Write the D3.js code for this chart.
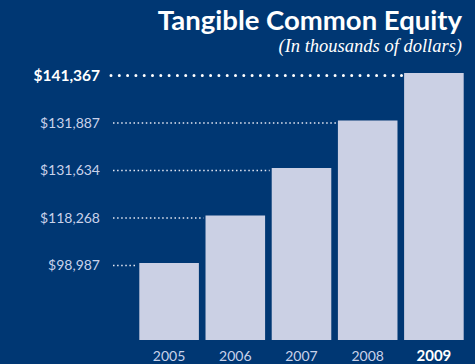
<!DOCTYPE html>
<html>
<head>
<meta charset="utf-8">
<script src="https://cdn.jsdelivr.net/npm/d3@7"></script>
<style>
  html, body { margin: 0; padding: 0; background: #003773; }
  svg { display: block; }
</style>
</head>
<body>
<div id="chart"></div>
<script>
// Tangible common equity by year, in thousands of dollars
const years = ["2005", "2006", "2007", "2008", "2009"];
const equity = [98987, 118268, 131634, 131887, 141367];
const valueLabels = ["$98,987", "$118,268", "$131,634", "$131,887", "$141,367"];
const highlightYear = "2009";

const W = 475, H = 364;
const bg = "#003773", barFill = "#cbd0e4", light = "#c9d2ea";

const svg = d3.select("#chart").append("svg")
  .attr("width", W).attr("height", H)
  .style("background", bg);

const x = d3.scaleBand().domain(years).range([136, 467]).paddingInner(0.1).paddingOuter(0.05);
// Each value sits on its own evenly spaced level (ranked scale)
const y = d3.scalePoint().domain(equity.slice().sort(d3.ascending)).range([263, 73]);
const baseY = 340;

const rows = years.map((yr, i) => ({ year: yr, value: equity[i], label: valueLabels[i], hi: yr === highlightYear }));

// Leader lines from labels to each bar
svg.append("g").selectAll("line").data(rows).join("line")
  .attr("x1", d => d.hi ? 111 : 113)
  .attr("x2", d => x(d.year) - 2)
  .attr("y1", d => y(d.value) + 2.5)
  .attr("y2", d => y(d.value) + 2.5)
  .attr("stroke", d => d.hi ? "#ffffff" : "#e6e9f4")
  .attr("stroke-width", d => d.hi ? 3 : 1.5)
  .attr("stroke-linecap", d => d.hi ? "round" : "butt")
  .attr("stroke-dasharray", d => d.hi ? "0,8.3" : "1.5,2.6");

// Bars
svg.append("g").selectAll("rect").data(rows).join("rect")
  .attr("x", d => x(d.year))
  .attr("width", x.bandwidth())
  .attr("y", d => y(d.value))
  .attr("height", d => baseY - y(d.value))
  .attr("fill", barFill);

// Value labels
svg.append("g").selectAll("text").data(rows).join("text")
  .attr("x", 100)
  .attr("y", d => y(d.value) + 2.5)
  .attr("dy", "0.35em")
  .attr("text-anchor", "end")
  .attr("font-family", "Lato, 'Open Sans', sans-serif")
  .attr("font-size", d => d.hi ? 15.5 : 14)
  .attr("font-weight", d => d.hi ? 700 : 400)
  .attr("fill", d => d.hi ? "#ffffff" : light)
  .text(d => d.label);

// Year axis labels
svg.append("g").selectAll("text").data(rows).join("text")
  .attr("x", d => x(d.year) + x.bandwidth() / 2)
  .attr("y", 361)
  .attr("text-anchor", "middle")
  .attr("font-family", "Lato, 'Open Sans', sans-serif")
  .attr("font-size", d => d.hi ? 15 : 14)
  .attr("font-weight", d => d.hi ? 700 : 400)
  .attr("fill", d => d.hi ? "#ffffff" : light)
  .text(d => d.year);

// Title and unit note
svg.append("text")
  .attr("x", 462).attr("y", 30)
  .attr("text-anchor", "end")
  .attr("font-family", "Lato, 'Open Sans', sans-serif")
  .attr("font-size", 27.5)
  .attr("font-weight", 700)
  .attr("fill", "#ffffff")
  .text("Tangible Common Equity");

svg.append("text")
  .attr("x", 462).attr("y", 52)
  .attr("text-anchor", "end")
  .attr("font-family", "'Liberation Serif', 'DejaVu Serif', serif")
  .attr("font-size", 18.5)
  .attr("font-style", "italic")
  .attr("fill", "#ffffff")
  .text("(In thousands of dollars)");
</script>
</body>
</html>
